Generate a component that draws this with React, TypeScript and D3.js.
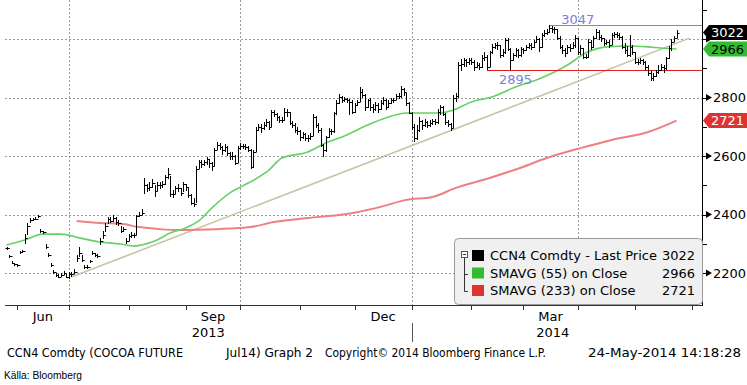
import * as d3 from "d3"

// trading days start at this date (first bar)
const startDate = "2013-05-28"

// daily closes, highs, lows (one per weekday from startDate)
const closes = [
  2285, 2258, 2235, 2230, 2227, 2272, 2275, 2320, 2360, 2380,
  2383, 2385, 2395, 2345, 2340, 2290, 2262, 2228, 2203, 2192,
  2188, 2193, 2200, 2188, 2195, 2195, 2205, 2250, 2270, 2245,
  2220, 2220, 2240, 2268, 2262, 2258, 2310, 2330, 2360, 2385,
  2378, 2388, 2375, 2372, 2345, 2350, 2310, 2325, 2330, 2330,
  2395, 2400, 2405, 2500, 2490, 2495, 2508, 2480, 2500, 2500,
  2505, 2528, 2540, 2470, 2470, 2492, 2490, 2475, 2505, 2493,
  2465, 2440, 2435, 2555, 2580, 2572, 2578, 2590, 2575, 2565,
  2620, 2638, 2632, 2620, 2632, 2610, 2600, 2600, 2575, 2628,
  2635, 2635, 2630, 2622, 2562, 2615, 2690, 2700, 2695, 2705,
  2715, 2700, 2750, 2745, 2733, 2723, 2723, 2750, 2750, 2712,
  2705, 2690, 2685, 2665, 2675, 2660, 2660, 2670, 2735, 2705,
  2690, 2638, 2620, 2665, 2685, 2685, 2747, 2780, 2802, 2790,
  2795, 2790, 2785, 2750, 2775, 2785, 2820, 2810, 2768, 2790,
  2768, 2760, 2775, 2760, 2780, 2790, 2768, 2780, 2790, 2790,
  2805, 2805, 2830, 2818, 2780, 2747, 2700, 2660, 2690, 2720,
  2705, 2715, 2705, 2712, 2720, 2715, 2750, 2768, 2745, 2715,
  2710, 2695, 2800, 2805, 2911, 2915, 2928, 2922, 2928, 2922,
  2905, 2910, 2905, 2935, 2940, 2905, 2955, 2972, 2978, 2978,
  2945, 2955, 2997, 2965, 2928, 2945, 2962, 2945, 2965, 2962,
  2972, 2978, 2972, 2990, 3000, 2972, 3013, 3022, 3024, 3038,
  3033, 3033, 3003, 2973, 2962, 2952, 2973, 2968, 2980, 3003,
  2955, 2968, 2938, 2938, 2990, 2973, 3003, 3024, 3008, 3003,
  2985, 2990, 2980, 3013, 3018, 3013, 3008, 2973, 2962, 2945,
  2973, 2955, 2920, 2920, 2927, 2920, 2905, 2884, 2867, 2872,
  2888, 2893, 2905, 2900, 2935, 2968, 2990, 3003, 3022,
]

const highs = [
  2290, 2262, 2240, 2234, 2232, 2276, 2280, 2335, 2370, 2388,
  2388, 2390, 2400, 2352, 2345, 2298, 2270, 2235, 2210, 2200,
  2196, 2200, 2206, 2195, 2202, 2202, 2212, 2262, 2290, 2262,
  2226, 2226, 2246, 2274, 2268, 2264, 2318, 2345, 2372, 2392,
  2392, 2398, 2390, 2382, 2360, 2356, 2320, 2335, 2340, 2338,
  2400, 2410, 2420, 2525, 2505, 2510, 2520, 2500, 2510, 2512,
  2515, 2535, 2558, 2530, 2485, 2498, 2505, 2490, 2512, 2505,
  2495, 2470, 2455, 2565, 2588, 2585, 2585, 2598, 2590, 2578,
  2628, 2648, 2645, 2635, 2640, 2635, 2615, 2612, 2605, 2635,
  2645, 2642, 2640, 2635, 2625, 2622, 2700, 2710, 2708, 2715,
  2725, 2718, 2758, 2758, 2748, 2738, 2735, 2765, 2760, 2752,
  2718, 2712, 2700, 2690, 2682, 2678, 2672, 2680, 2745, 2738,
  2712, 2695, 2640, 2670, 2695, 2692, 2752, 2790, 2812, 2805,
  2802, 2800, 2795, 2790, 2780, 2792, 2835, 2828, 2812, 2795,
  2800, 2778, 2785, 2780, 2790, 2802, 2795, 2790, 2800, 2800,
  2812, 2815, 2838, 2832, 2815, 2785, 2750, 2710, 2705, 2732,
  2722, 2725, 2718, 2722, 2728, 2728, 2760, 2775, 2770, 2748,
  2722, 2712, 2808, 2815, 2920, 2930, 2935, 2932, 2935, 2935,
  2928, 2920, 2918, 2945, 2955, 2945, 2960, 2982, 2985, 2990,
  2978, 2965, 3005, 3003, 2968, 2952, 2970, 2965, 2972, 2970,
  2980, 2988, 2985, 2998, 3010, 3003, 3020, 3030, 3035, 3047,
  3045, 3042, 3035, 3010, 2980, 2970, 2980, 2982, 2990, 3012,
  3005, 2978, 2970, 2950, 3000, 2995, 3010, 3035, 3030, 3015,
  3005, 2998, 2995, 3020, 3025, 3024, 3020, 3010, 2985, 2975,
  3015, 2980, 2955, 2930, 2935, 2932, 2925, 2910, 2890, 2885,
  2895, 2910, 2915, 2912, 2940, 2975, 3000, 3010, 3030,
]

const lows = [
  2280, 2252, 2230, 2225, 2222, 2266, 2270, 2300, 2330, 2372,
  2378, 2380, 2388, 2338, 2335, 2283, 2255, 2220, 2196, 2185,
  2182, 2186, 2192, 2182, 2180, 2188, 2198, 2238, 2255, 2236,
  2214, 2214, 2234, 2262, 2256, 2252, 2295, 2315, 2340, 2368,
  2370, 2376, 2365, 2362, 2338, 2340, 2300, 2310, 2318, 2318,
  2330, 2390, 2398, 2470, 2478, 2482, 2490, 2460, 2480, 2488,
  2490, 2500, 2520, 2460, 2458, 2470, 2478, 2462, 2478, 2480,
  2458, 2432, 2425, 2440, 2555, 2560, 2565, 2570, 2560, 2550,
  2565, 2620, 2620, 2605, 2612, 2600, 2588, 2585, 2568, 2575,
  2622, 2625, 2620, 2612, 2555, 2560, 2612, 2685, 2680, 2690,
  2700, 2688, 2700, 2735, 2720, 2712, 2712, 2720, 2735, 2705,
  2695, 2680, 2672, 2650, 2658, 2650, 2648, 2655, 2668, 2695,
  2680, 2630, 2597, 2615, 2662, 2672, 2680, 2740, 2778, 2782,
  2785, 2780, 2740, 2742, 2748, 2770, 2785, 2798, 2755, 2765,
  2755, 2748, 2755, 2748, 2758, 2775, 2758, 2765, 2778, 2780,
  2790, 2795, 2800, 2805, 2770, 2742, 2690, 2648, 2655, 2682,
  2690, 2700, 2695, 2700, 2705, 2705, 2710, 2740, 2738, 2705,
  2700, 2685, 2695, 2785, 2800, 2890, 2905, 2905, 2912, 2910,
  2892, 2900, 2895, 2900, 2925, 2895, 2905, 2950, 2965, 2962,
  2935, 2940, 2950, 2958, 2895, 2925, 2940, 2935, 2940, 2948,
  2960, 2965, 2962, 2970, 2985, 2955, 2968, 3008, 3015, 3022,
  3022, 3018, 2995, 2965, 2950, 2940, 2948, 2955, 2965, 2970,
  2945, 2945, 2932, 2930, 2935, 2962, 2968, 3000, 2998, 2990,
  2975, 2978, 2970, 2978, 3005, 3002, 2995, 2965, 2950, 2938,
  2940, 2945, 2915, 2910, 2915, 2910, 2895, 2875, 2855, 2858,
  2870, 2880, 2890, 2885, 2895, 2930, 2960, 2990, 3003,
]

// moving averages
const sma55: [string, number][] = [
  ["2013-05-28", 2296], ["2013-06-06", 2313], ["2013-06-17", 2333], ["2013-06-26", 2333],
  ["2013-07-05", 2320], ["2013-07-17", 2306], ["2013-07-29", 2299], ["2013-08-05", 2292],
  ["2013-08-08", 2296], ["2013-08-16", 2313], ["2013-08-23", 2337], ["2013-09-02", 2354],
  ["2013-09-09", 2378], ["2013-09-16", 2422], ["2013-09-25", 2474], ["2013-10-02", 2498],
  ["2013-10-09", 2522], ["2013-10-16", 2552], ["2013-10-23", 2593], ["2013-11-06", 2614],
  ["2013-11-15", 2645], ["2013-11-27", 2672], ["2013-12-09", 2706], ["2013-12-18", 2730],
  ["2013-12-30", 2747], ["2014-01-06", 2747], ["2014-01-16", 2747], ["2014-01-23", 2757],
  ["2014-02-03", 2785], ["2014-02-13", 2802], ["2014-02-26", 2836], ["2014-03-10", 2860],
  ["2014-03-19", 2887], ["2014-03-26", 2911], ["2014-04-04", 2952], ["2014-04-16", 2973],
  ["2014-04-28", 2976], ["2014-05-08", 2973], ["2014-05-15", 2969], ["2014-05-23", 2966],
]

const sma233: [string, number][] = [
  ["2013-07-04", 2378], ["2013-07-17", 2371], ["2013-07-29", 2368], ["2013-08-07", 2357],
  ["2013-08-19", 2350], ["2013-08-29", 2347], ["2013-09-09", 2348], ["2013-09-25", 2352],
  ["2013-10-07", 2357], ["2013-10-18", 2374], ["2013-11-06", 2388], ["2013-11-22", 2398],
  ["2013-12-03", 2408], ["2013-12-16", 2426], ["2013-12-30", 2450], ["2014-01-13", 2460],
  ["2014-01-24", 2491], ["2014-02-12", 2525], ["2014-02-28", 2560], ["2014-03-14", 2593],
  ["2014-04-02", 2627], ["2014-04-18", 2655], ["2014-05-08", 2682], ["2014-05-23", 2721],
]

const trendLine: [string, number][] = [["2013-07-02", 2186], ["2014-05-30", 3003]]

const levelDates = ["2014-03-17", "2014-02-11"]
const levelValues = [3047, 2895]
const levelColors = ["#33cc33", "#e02020"]

const legendNames = ["CCN4 Comdty - Last Price", "SMAVG (55) on Close", "SMAVG (233) on Close"]
const legendColors = ["#000000", "#33bb33", "#dd3333"]
const boxText = ["#ffffff", "#000000", "#ffffff"]

const yTicks = [2200, 2400, 2600, 2800, 3000]
const yMinor = [2300, 2500, 2700, 2900, 3100]
const monthLabels = ["2013-06", "2013-09", "2013-12", "2014-03"]
const monthNames = ["Jun", "Sep", "Dec", "Mar"]
const years = ["2013", "2014"]

const W = 747
const H = 385
const left = 5
const right = 702
const bottom = 305
const font = "DejaVu Sans, Verdana, sans-serif"

const parse = d3.utcParse("%Y-%m-%d")!
const days = d3.utcDays(parse(startDate)!, parse("2014-07-01")!).filter(d => d.getUTCDay() % 6 !== 0)
const dayIdx = new Map(days.map((d, i) => [+d, i]))
const idxOf = (s: string) => dayIdx.get(+parse(s)!) ?? 0
const firstOfMonth = (y: number, m: number) => days.findIndex(d => d.getUTCFullYear() === y && d.getUTCMonth() === m)

export default function App() {
  const xs = d3.scaleLinear().domain([-0.6, 267.8]).range([left, right])
  const ys = d3.scaleLinear().domain([2200, 3000]).range([273, 39])
  const px = (v: number) => Math.round(v) + 0.5

  const monthStarts: number[] = []
  for (let k = 0; k < 13; k++) {
    const y = 2013 + Math.floor((5 + k) / 12)
    const m = (5 + k) % 12
    monthStarts.push(firstOfMonth(y, m))
  }
  const quarterStarts = [firstOfMonth(2013, 6), firstOfMonth(2013, 9), firstOfMonth(2014, 0), firstOfMonth(2014, 3)]
  const yearX = xs(firstOfMonth(2014, 0))

  const maLine = d3
    .line<[string, number]>()
    .x(d => xs(idxOf(d[0])))
    .y(d => ys(d[1]))
    .curve(d3.curveMonotoneX)

  const lastVals = [closes[closes.length - 1], sma55[sma55.length - 1][1], sma233[sma233.length - 1][1]]
  const boxYs = lastVals.map(v => ys(v))

  return (
    <svg width={W} height={H} style={{ position: "absolute", left: 0, top: 0, background: "#fff" }} fontFamily={font}>
      {/* grid */}
      {yTicks.map(t => (
        <line key={t} x1={left} x2={right} y1={px(ys(t))} y2={px(ys(t))} stroke="#9a9a9a" strokeDasharray="2,2" />
      ))}
      {quarterStarts.map(q => (
        <line key={q} x1={px(xs(q))} x2={px(xs(q))} y1={0} y2={bottom} stroke="#9a9a9a" strokeDasharray="2,2" />
      ))}

      {/* moving averages and trend */}
      <path d={maLine(trendLine) ?? ""} fill="none" stroke="#c9c3a4" strokeWidth={1.6} />
      <path d={maLine(sma233) ?? ""} fill="none" stroke="#ee8080" strokeWidth={2} />
      <path d={maLine(sma55) ?? ""} fill="none" stroke="#66d166" strokeWidth={1.6} />

      {/* level lines */}
      {levelValues.map((v, k) => (
        <g key={v}>
          <line x1={xs(idxOf(levelDates[k]))} x2={right} y1={px(ys(v))} y2={px(ys(v))} stroke={levelColors[k]} />
          <text
            x={xs(idxOf(levelDates[k])) + 12}
            y={k === 0 ? ys(v) - 1 : ys(v) + 14}
            fontSize={13}
            fill="#7b80d8"
          >
            {v}
          </text>
        </g>
      ))}

      {/* price bars */}
      <g stroke="#000" strokeWidth={1}>
        {closes.map((c, i) => {
          const x = px(xs(i))
          const o = i > 0 ? closes[i - 1] : c
          const yh = Math.round(ys(highs[i]))
          const yl = Math.max(Math.round(ys(lows[i])), yh + 1)
          return (
            <g key={i}>
              <line x1={x} x2={x} y1={yh} y2={yl} />
              <line x1={x - 2} x2={x} y1={px(ys(o))} y2={px(ys(o))} />
              <line x1={x} x2={x + 2} y1={px(ys(c))} y2={px(ys(c))} />
            </g>
          )
        })}
      </g>

      {/* bottom axis */}
      <line x1={left} x2={right} y1={bottom + 0.5} y2={bottom + 0.5} stroke="#333" />
      {monthStarts.map(m => (
        <line key={m} x1={px(xs(m))} x2={px(xs(m))} y1={bottom} y2={bottom + 5} stroke="#333" />
      ))}
      {monthLabels.map((s, k) => {
        const y = +s.slice(0, 4)
        const m = +s.slice(5) - 1
        const a = firstOfMonth(y, m)
        const b = firstOfMonth(y + (m === 11 ? 1 : 0), (m + 1) % 12)
        return (
          <text key={s} x={(xs(a) + xs(b)) / 2} y={321} textAnchor="middle" fontSize={13}>
            {monthNames[k]}
          </text>
        )
      })}
      <line x1={px(yearX)} x2={px(yearX)} y1={323} y2={342} stroke="#555" />
      <text x={(left + yearX) / 2} y={337} textAnchor="middle" fontSize={13}>{years[0]}</text>
      <text x={(yearX + right) / 2 - 4} y={337} textAnchor="middle" fontSize={13}>{years[1]}</text>

      {/* right axis */}
      <line x1={right + 0.5} x2={right + 0.5} y1={0} y2={bottom + 1} stroke="#000" />
      {yMinor.map(t => (
        <line key={t} x1={right} x2={right + 5} y1={px(ys(t))} y2={px(ys(t))} stroke="#000" />
      ))}
      {yTicks.map(t => {
        const y = ys(t)
        const hidden = boxYs.some(b => Math.abs(b - y) < 12)
        return (
          <g key={t}>
            <line x1={right} x2={right + 4} y1={px(y)} y2={px(y)} stroke="#000" />
            <path d={`M${right + 4},${y - 3.5}L${right + 10},${y}L${right + 4},${y + 3.5}Z`} fill="#000" />
            {!hidden && (
              <text x={right + 11} y={y} dy="0.36em" fontSize={13}>{t}</text>
            )}
          </g>
        )
      })}

      {/* last value boxes */}
      {lastVals.map((v, k) => {
        const y = boxYs[k]
        return (
          <g key={k}>
            <path
              d={`M${right + 1},${y}L${right + 7},${y - 7.5}L${W},${y - 7.5}L${W},${y + 7.5}L${right + 7},${y + 7.5}Z`}
              fill={legendColors[k]}
            />
            <text x={W - 3} y={y} dy="0.36em" textAnchor="end" fontSize={13} fill={boxText[k]}>{v}</text>
          </g>
        )
      })}

      {/* legend */}
      <rect x={454.5} y={238.5} width={248} height={66} rx={4} fill="#f0f0f0" stroke="#9a9a9a" />
      <rect x={461.5} y={251.5} width={6} height={6} fill="#fff" stroke="#555" />
      <line x1={463} x2={466} y1={254.5} y2={254.5} stroke="#333" />
      <path d="M464.5,258V291.5H468M464.5,274.5H468" fill="none" stroke="#333" />
      {legendNames.map((n, k) => {
        const cy = 255.5 + k * 17.5
        return (
          <g key={n}>
            <rect x={472} y={cy - 5.5} width={12} height={11} fill={legendColors[k]} />
            <text x={490} y={cy} dy="0.36em" fontSize={13}>{n}</text>
            <text x={695} y={cy} dy="0.36em" fontSize={13} textAnchor="end">{lastVals[k]}</text>
          </g>
        )
      })}

      {/* footer */}
      <g fontSize={12}>
        <text x={7} y={357} textLength={176} lengthAdjust="spacingAndGlyphs">CCN4 Comdty (COCOA FUTURE</text>
        <text x={226} y={357} textLength={87} lengthAdjust="spacingAndGlyphs">Jul14) Graph 2</text>
        <text x={325} y={357} textLength={221} lengthAdjust="spacingAndGlyphs">Copyright© 2014 Bloomberg Finance L.P.</text>
        <text x={588} y={357} textLength={153} lengthAdjust="spacingAndGlyphs">24-May-2014 14:18:28</text>
      </g>
      <text x={4} y={379} fontSize={10} fontFamily="Liberation Sans Narrow, Liberation Sans, sans-serif" textLength={78} lengthAdjust="spacingAndGlyphs">
        Källa: Bloomberg
      </text>
    </svg>
  )
}
